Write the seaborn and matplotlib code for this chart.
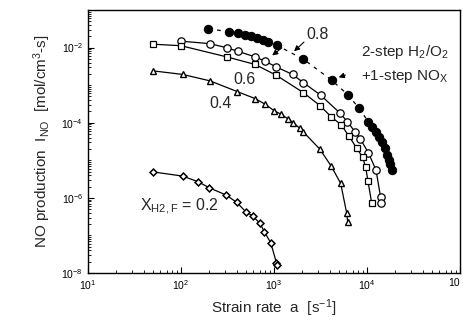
import numpy as np
import pandas as pd
import matplotlib
matplotlib.use("Agg")
import matplotlib.pyplot as plt
from matplotlib.ticker import LogLocator, NullFormatter, FixedLocator, FixedFormatter
import seaborn as sns

# ---- data ----
a_08f = [197, 328, 410, 487, 566, 657, 762, 861, 1064, 2066, 4170, 6295, 8240,
         10330, 11320, 12500, 13460, 14500, 15630, 16530, 17250, 17670, 18450]
I_08f = [3.14e-2, 2.65e-2, 2.49e-2, 2.20e-2, 2.01e-2, 1.83e-2, 1.62e-2, 1.44e-2,
         1.16e-2, 4.91e-3, 1.36e-3, 5.4e-4, 2.40e-4, 1.06e-4, 7.6e-5, 5.6e-5,
         4.1e-5, 3.05e-5, 2.07e-5, 1.37e-5, 1.01e-5, 8.2e-6, 5.5e-6]

a_08 = [100, 205, 310, 413, 625, 800, 1052, 1581, 2075, 3177, 5130, 6166, 7430,
        8410, 10330, 12500, 13970, 14150]
I_08 = [1.48e-2, 1.27e-2, 9.9e-3, 7.9e-3, 5.66e-3, 4.35e-3, 3.07e-3, 1.93e-3,
        1.16e-3, 5.4e-4, 1.80e-4, 1.06e-4, 5.7e-5, 3.8e-5, 1.60e-5, 5.5e-6,
        1.08e-6, 7.1e-7]

a_06 = [50, 100, 310, 625, 1050, 2075, 3125, 4150, 5250, 6400, 7745, 8950, 9640,
        10250, 11240]
I_06 = [1.23e-2, 1.12e-2, 5.66e-3, 3.56e-3, 1.85e-3, 6.3e-4, 2.85e-4, 1.41e-4,
        8.9e-5, 4.4e-5, 2.1e-5, 1.22e-5, 6.8e-6, 2.8e-6, 7.1e-7]

a_04 = [50, 104, 205, 405, 625, 800, 1007, 1189, 1425, 1614, 1905, 2067, 3125,
        4120, 5210, 6050, 6200]
I_04 = [2.4e-3, 1.93e-3, 1.30e-3, 6.7e-4, 4.4e-4, 3.13e-4, 2.07e-4, 1.69e-4,
        1.25e-4, 9.9e-5, 7.05e-5, 5.7e-5, 1.95e-5, 7.0e-6, 2.43e-6, 3.9e-7, 2.3e-7]

a_02 = [50, 104, 153, 201, 305, 397, 497, 590, 706, 787, 922, 1060, 1084]
I_02 = [4.9e-6, 3.8e-6, 2.68e-6, 1.86e-6, 1.19e-6, 7.6e-7, 4.27e-7, 3.28e-7,
        2.1e-7, 1.25e-7, 6.4e-8, 1.9e-8, 1.63e-8]

x_ticks = [1e1, 1e2, 1e3, 1e4, 1e5]
x_labels = [r"10$^{1}$", r"10$^{2}$", r"10$^{3}$", r"10$^{4}$", r"10"]
y_ticks = [1e-8, 1e-6, 1e-4, 1e-2]
y_labels = [r"10$^{-8}$", r"10$^{-6}$", r"10$^{-4}$", r"10$^{-2}$"]

sns.set_style("ticks")
plt.rcParams["font.family"] = ["Liberation Sans", "DejaVu Sans"]
plt.rcParams["mathtext.fontset"] = "custom"
plt.rcParams["mathtext.rm"] = "Liberation Sans"
plt.rcParams["mathtext.it"] = "Liberation Sans"

fig = plt.figure(figsize=(4.63, 3.20), dpi=100)
ax = fig.add_axes([88 / 463, 1 - 273 / 320, 372 / 463, 263 / 320])

def series(a, I, **kw):
    df = pd.DataFrame({"a": a, "I": I})
    sns.lineplot(data=df, x="a", y="I", ax=ax, sort=False, color="black",
                 lw=0.9, **kw)

series(a_08f, I_08f, marker="o", markersize=6, markerfacecolor="black",
       markeredgecolor="black", linestyle=(0, (3, 4)))
series(a_08, I_08, marker="o", markersize=5.3, markerfacecolor="white",
       markeredgecolor="black", markeredgewidth=0.9)
series(a_06, I_06, marker="s", markersize=4.8, markerfacecolor="white",
       markeredgecolor="black", markeredgewidth=0.9)
series(a_04, I_04, marker="^", markersize=4.5, markerfacecolor="white",
       markeredgecolor="black", markeredgewidth=1.0)
series(a_02, I_02, marker="D", markersize=3.5, markerfacecolor="white",
       markeredgecolor="black", markeredgewidth=1.1)

ax.set_xscale("log")
ax.set_yscale("log")
ax.set_xlim(1e1, 1e5)
ax.set_ylim(1e-8, 1e-1)

ax.xaxis.set_major_locator(FixedLocator(x_ticks))
ax.xaxis.set_major_formatter(FixedFormatter(x_labels))
ax.xaxis.set_minor_locator(LogLocator(base=10, subs=np.arange(2, 10), numticks=20))
ax.xaxis.set_minor_formatter(NullFormatter())
ax.yaxis.set_major_locator(FixedLocator(y_ticks))
ax.yaxis.set_major_formatter(FixedFormatter(y_labels))
ax.yaxis.set_minor_locator(LogLocator(base=10, subs=np.arange(1, 10), numticks=20))
ax.yaxis.set_minor_formatter(NullFormatter())
ax.tick_params(which="both", direction="in", top=False, right=False,
               labelsize=7.5, colors="black")
ax.tick_params(which="major", length=4, width=0.8)
ax.tick_params(which="minor", length=2, width=0.6)
for s in ax.spines.values():
    s.set_color("black")
    s.set_linewidth(1.0)
# last x tick label sits at the right edge as in the reference
ax.get_xticklabels()[-1].set_horizontalalignment("right")

ax.set_xlabel(r"Strain rate  a  [s$^{-1}$]", fontsize=11, labelpad=4)
ax.set_ylabel(r"NO production  I$_{\rm NO}$  [mol/cm$^{3}$-s]", fontsize=11,
              labelpad=6)

ax.text(2970, 2.27e-2, "0.8", fontsize=11.5, ha="center", va="center")
ax.text(487, 1.45e-3, "0.6", fontsize=11.5, ha="center", va="center")
ax.text(269, 3.3e-4, "0.4", fontsize=11.5, ha="center", va="center")
ax.text(0.14, 0.251, r"X$_{\rm H2,F}$ = 0.2", transform=ax.transAxes,
        fontsize=11.5, ha="left", va="center")
ax.text(0.733, 0.840, r"2-step H$_2$/O$_2$", transform=ax.transAxes,
        fontsize=11, ha="left", va="center")
ax.text(0.733, 0.749, r"+1-step NO$_{\rm X}$", transform=ax.transAxes,
        fontsize=11, ha="left", va="center")

arrow = dict(arrowstyle="-|>", color="black", lw=0.8, mutation_scale=8)
ax.annotate("", xy=(1563, 7.1e-3), xytext=(2208, 1.57e-2), arrowprops=arrow)
ax.annotate("", xy=(906, 5.56e-3), xytext=(1282, 1.09e-2), arrowprops=arrow)
ax.annotate("", xy=(4645, 1.53e-3), xytext=(6250, 1.96e-3), arrowprops=arrow)

fig.savefig("out.png", dpi=100)
